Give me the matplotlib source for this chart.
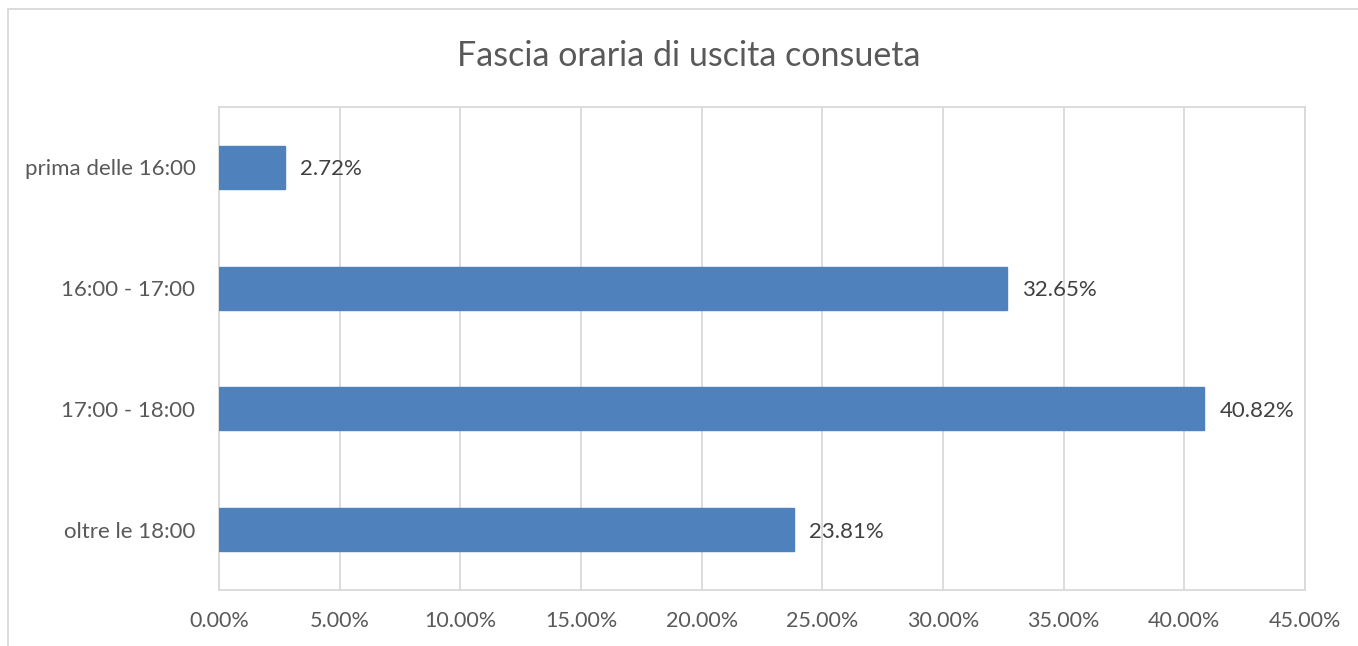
import matplotlib
matplotlib.use("Agg")
import matplotlib.pyplot as plt
from matplotlib.patches import Rectangle
from matplotlib.ticker import FuncFormatter, MultipleLocator

categories = ["prima delle 16:00", "16:00 - 17:00", "17:00 - 18:00", "oltre le 18:00"]
values = [2.72, 32.65, 40.82, 23.81]
title = "Fascia oraria di uscita consueta"

plt.rcParams['font.family'] = ['Lato', 'DejaVu Sans']

W, H = 1358, 646
fig = plt.figure(figsize=(W / 100, H / 100), dpi=100)
fig.patch.set_facecolor("white")

# outer chart border
fig.patches.append(Rectangle((8 / W, -0.05), 1.2, 1 - 9 / H + 0.05, transform=fig.transFigure,
                             fill=False, edgecolor="#D9D9D9", linewidth=1.3, zorder=0))

ax = fig.add_axes([219 / W, (H - 590) / H, (1305 - 219) / W, (590 - 107) / H])

pos = list(range(len(categories)))
ax.barh(pos, values, height=0.355, color="#4F81BD", edgecolor="#4F81BD", zorder=3)
ax.set_ylim(len(categories) - 0.5, -0.5)
ax.set_yticks(pos)
ax.set_yticklabels(categories, va="center_baseline")
ax.set_xlim(0, 45)
ax.xaxis.set_major_locator(MultipleLocator(5))
ax.xaxis.set_major_formatter(FuncFormatter(lambda v, p: f"{v:.2f}%"))

ax.grid(axis="x", color="#D9D9D9", linewidth=1.3, zorder=0)
for s in ax.spines.values():
    s.set_color("#D9D9D9")
    s.set_linewidth(1.3)
ax.tick_params(axis="both", length=0, colors="#595959")
ax.tick_params(axis="x", pad=15, labelsize=15.5)
ax.tick_params(axis="y", pad=17, labelsize=16)

for p, v in zip(pos, values):
    ax.annotate(f"{v:.2f}%", (v, p), xytext=(11, 0), textcoords="offset points",
                va="center_baseline", ha="left", fontsize=16, color="#404040")

fig.text(689 / W, 1 - 56 / H, title, ha="center", va="center", fontsize=24.5, color="#595959")

fig.savefig("out.png", dpi=100, facecolor="white")
